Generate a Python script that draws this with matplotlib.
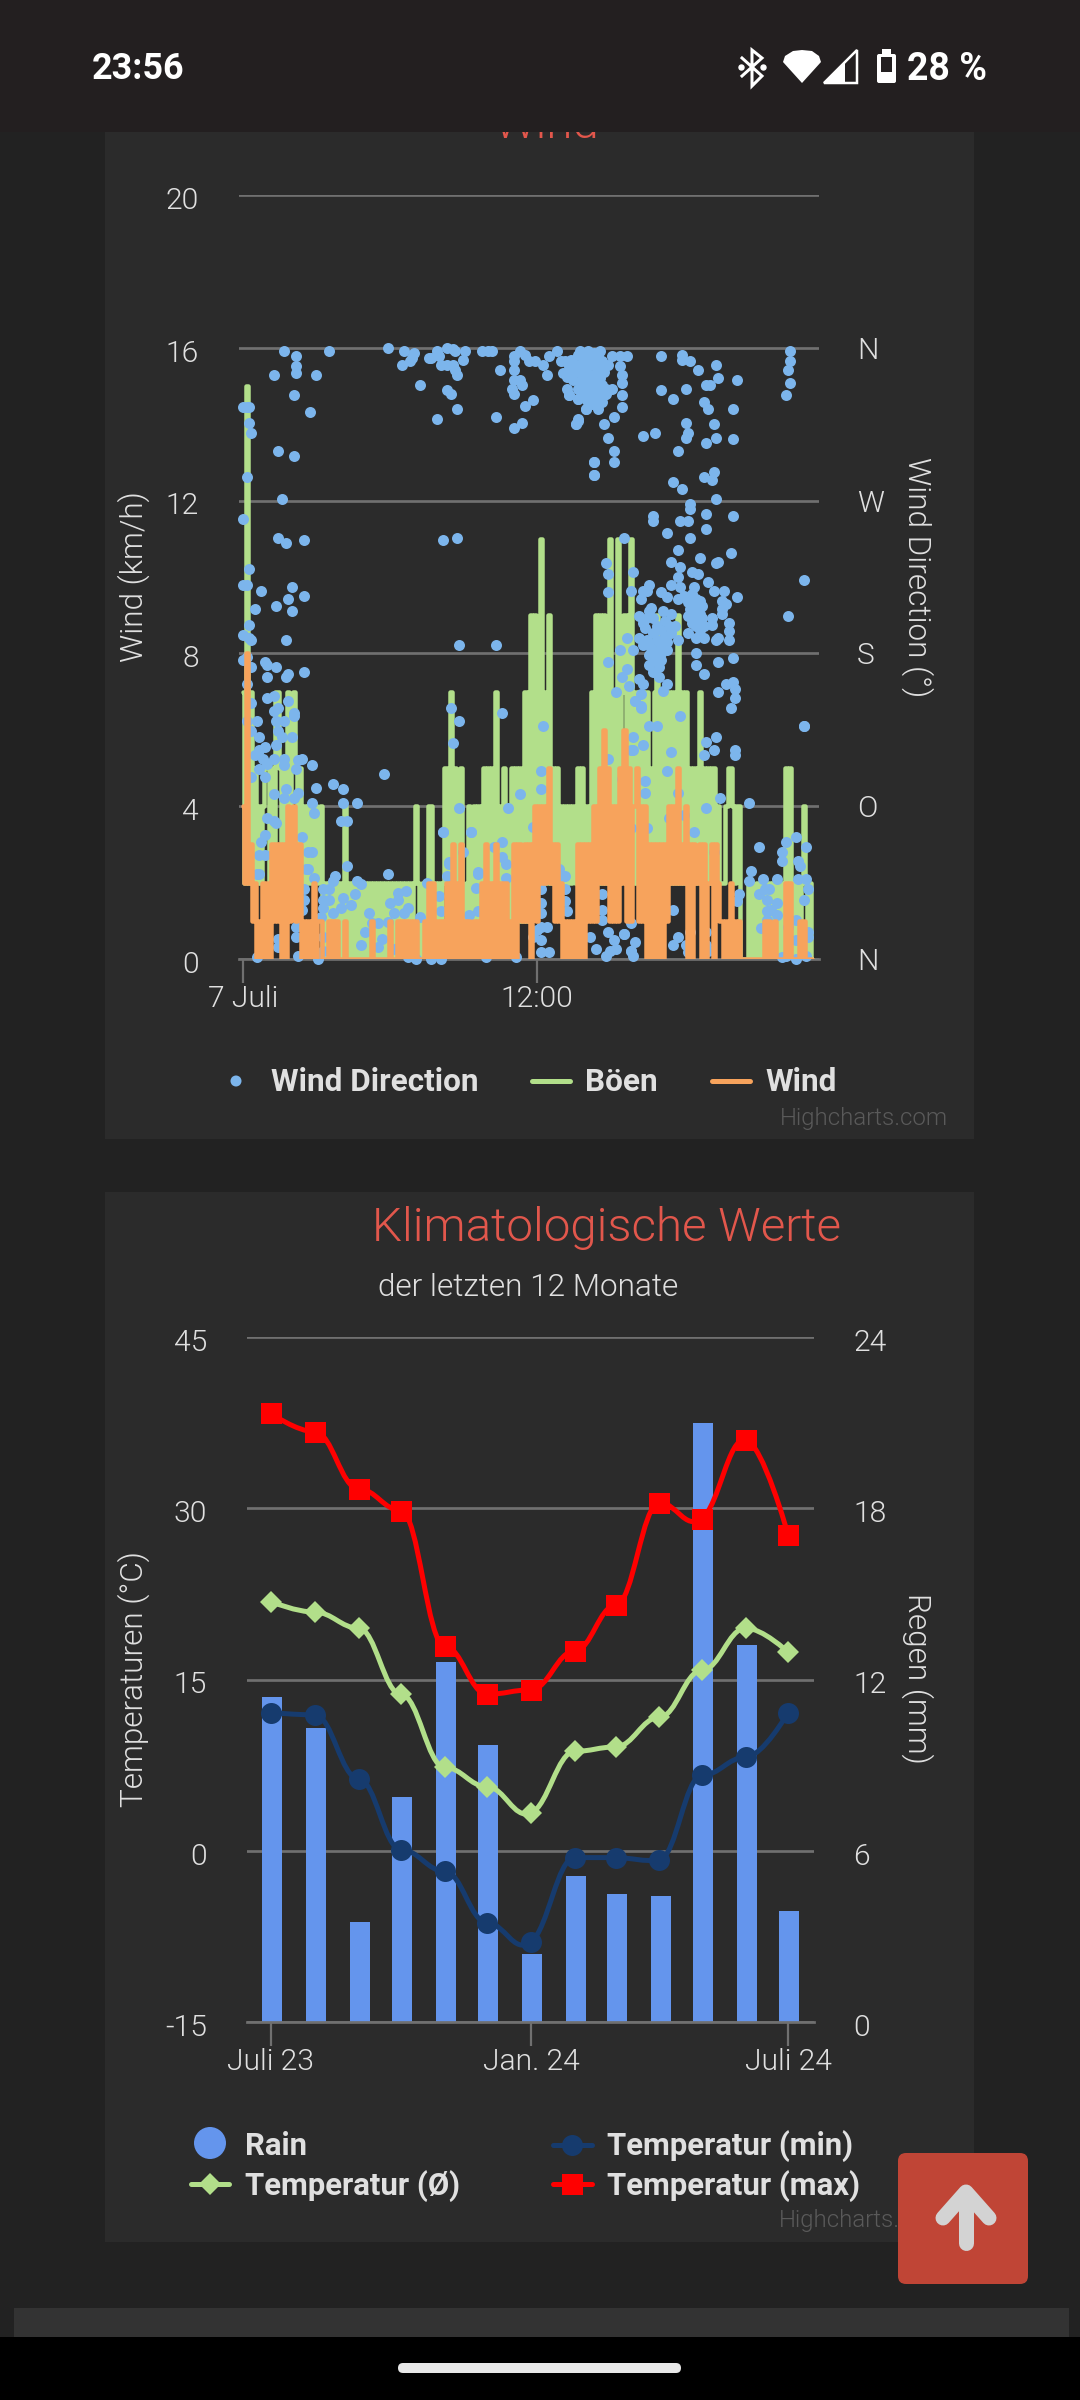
import matplotlib
matplotlib.use("Agg")
import matplotlib.pyplot as plt
import numpy as np
import pandas as pd
from matplotlib.path import Path
from matplotlib.patches import PathPatch, Rectangle, FancyBboxPatch, Polygon, Circle
from matplotlib.transforms import ScaledTranslation

plt.rcParams['font.family'] = ['Roboto', 'DejaVu Sans']
plt.rcParams['axes.unicode_minus'] = False

# ---------- Wind chart data (one sample every 5 minutes from 00:00) ----------
gust_kmh = [
 7,2,15,2,7,2,5,2,4,2,4,5,5,2,5,2,7,7,5,2,
 5,2,7,2,5,7,5,2,5,2,4,2,4,2,4,2,4,2,4,0,
 2,0,2,0,2,0,2,0,2,0,4,0,2,0,2,0,2,0,2,0,
 2,0,2,0,2,0,2,0,2,0,2,0,2,0,2,0,2,0,2,0,
 2,0,2,0,2,4,2,0,2,0,2,4,4,0,2,0,2,0,2,5,
 5,0,7,0,5,0,4,5,0,0,2,4,0,4,0,4,0,4,5,0,
 5,0,5,0,7,0,4,0,5,0,4,1,5,1,5,1,5,1,7,1,
 7,9,2,9,2,7,11,2,7,2,9,2,5,2,5,2,4,2,4,2,
 4,2,4,2,5,2,5,2,4,2,4,7,2,9,2,9,2,9,2,7,
 11,2,7,2,11,2,7,9,2,9,11,2,7,2,7,2,7,2,7,2,
 5,2,7,9,2,7,2,7,2,7,2,7,2,9,2,7,2,7,2,5,
 2,5,2,5,7,2,5,2,5,2,5,5,2,4,2,2,2,4,5,5,
 4,2,4,4,0,0,0,0,2,2,0,0,2,0,2,0,2,0,2,0,
 2,0,2,0,2,0,5,0,5,0,2,0,2,0,2,4,2,0,2,0,
]
wind_kmh = [
 4,2,8,2,3,1,2,0,1,0,2,0,2,0,3,1,3,1,3,0,
 3,0,4,1,3,4,1,3,3,0,1,0,1,0,1,2,0,1,1,0,
 0,0,1,0,1,0,1,0,0,0,1,0,0,0,0,0,0,0,0,0,
 0,0,0,1,0,0,0,0,0,0,0,0,1,0,0,0,1,0,1,0,
 1,0,1,0,1,1,0,0,0,1,0,2,0,2,0,1,0,1,0,1,
 2,0,2,3,0,2,0,3,0,1,0,1,0,1,0,1,0,2,0,3,
 0,2,0,2,3,0,2,0,2,2,0,1,0,3,0,3,3,1,3,1,
 3,0,3,4,1,4,2,4,2,4,5,2,3,1,3,1,2,0,1,0,
 1,0,1,0,3,0,3,0,3,1,3,1,4,1,4,5,2,6,2,5,
 1,4,1,4,1,5,2,6,1,5,1,4,4,5,1,4,1,4,0,3,
 0,3,0,3,0,3,0,3,1,4,2,4,2,5,2,3,2,4,0,3,
 0,3,2,2,3,0,3,0,2,2,3,0,3,2,1,1,0,1,0,2,
 0,1,0,1,0,0,0,0,0,0,0,0,0,0,0,0,1,0,1,0,
 0,1,0,0,0,0,2,0,2,0,0,0,0,1,0,1,0,0,0,0,
]
direction_slot = [
 20,26,26,26,15,36,42,25,33,17, 25,19,17,21,30,0,3,2,3,4,
 2,0,71,79,84,83,82,78,91,92, 95,96,97,100,103,104,109,108,100,103,
 104,105,87,100,102,105,95,98,105,117, 120,122,126,124,133,133,133,136,138,140,
 143,147,150,154,149,156,161,133,136,137, 132,133,138,142,137,133,164,163,168,159,
 160,164,172,172,165,169,175,167,172,165, 168,173,165,168,173,175,167,171,168,173,
 165,174,170,173,174,178,181,160,164,168, 164,163,177,182,179,182,182,172,172,179,
 185,188,181,185,186,186,186,186,205,215, 215,219,223,232,233,242,227,229,205,217,
 211,226,228,240,217,231,218,217,196,202, 227,232,240,213,226,231,230,211,215,232,
 219,219,201,201,227,240,214,218,208,227, 219,187,213,239,210,214,224,232,233,220,
 223,213,228,210,214,221,231,236,242,178, 179,191,179,190,199,198,195,196,205,208,
 213,218,221,224,235,237,235,222,224,235, 230,238,230,223,238,218,222,226,232,238,
 233,221,194,200,201,196,197,206,210,209, 212,210,213,208,204,188,194,198,196,200,
 203,208,185,191,199,205,222,179,233,240, 199,204,222,226,201,188,204,186,194,196,
 189,208,206,240,237,241,233,183,195,192, 241,195,239,268,268,267,268,266,275,267,
 275,195,192,214,199,203,227,232,231,226, 241,241,275,191,196,191,210,208,197,197,
 213,234,227,248,221,271,266,253,276,264, 264,272,273,231,249,248,255,262,272,276,
 277,275,253,256,258,257,262,259,257,262, 257,271,254,259,277,277,267,271,266,271,
 276,264,243,242,213,211,192,190,191,204, 217,218,219,227,227,228,187,190,211,216,
 209,198,190,102,106,103,127,147,146,146, 136,130,106,98,112,142,179,190,186,127,
 123,108,101,129,127,115,114,129,100,96, 97,111,115,158,155,158,158,159,146,146,
 146,144,146,149,142,146,146,150,159,170, 179,182,187,176,176,176,180,173,178,183,
 190,97,119,128,129,134,3,0,2,9, 24,22,30,6,16,24,3,0,3,4,
 21,106,124,2,0,11,12,16,4,12, 21,22,30,2,12,15,4,22,17,15,
 25,25,2,7,16,20,4,17,8,19, 24,16,11,8,6,10,15,20,29,27,
 12,20,34,26,8,11,4,69,36,44, 49,21,27,15,20,25,34,49,56,35,
 12,15,16,48,51,11,9,29,98,112, 32,34,8,11,51,32,101,71,115,7,
 157,39,42,45,44,39,42,39,49,53, 55,48,44,56,58,62,60,58,72,76,
 76,80,81,74,79,87,90,66,71,68, 66,63,17,17,26,26,27,37,7,39,
 39,38,30,30,29,31,35,85,92,81, 74,8,
 164,166,168,170,172,174,176,164,166,170, 174,176,163,166,168,170,172,175,177,162,
 165,167,169,171,173,176,178,164,166,169, 172,174,177,166,168,170,172,175,169,171,
 173,176,171,174,158,160,162,157,159,161,
 216,218,220,222,219,221,223,225,221,223, 225,222,224,226,220,218,
 197,199,203,205,207,203,201,199,205,207, 201,203,205,
]
direction_deg = [
 358,355,349,345,344,344,358,332,322,299, 296,271,248,245,247,325,325,325,316,310,
 284,259,360,358,357,354,352,350,354,354, 358,355,350,360,359,358,358,353,350,350,
 347,344,338,335,333,324,318,247,248,358, 358,358,347,319,355,352,347,358,356,352,
 352,350,355,358,344,352,353,341,341,338, 336,333,326,329,316,313,318,315,324,336,
 332,330,293,285,358,358,358,353,353,349, 349,349,345,345,345,345,341,341,337,337,
 335,333,331,328,324,333,336,332,330,324, 317,315,315,319,307,299,293,293,285,350,
 355,355,355,349,344,339,332,325,355,356, 353,352,347,350,342,341,338,338,335,336,
 330,328,324,324,316,315,310,307,308,310, 304,307,306,299,284,287,282,281,277,271,
 268,265,261,258,262,261,258,258,251,253, 248,248,241,239,234,231,236,233,234,228,
 227,225,222,220,219,219,217,217,213,233, 227,228,216,217,220,217,212,217,216,213,
 212,213,212,211,211,209,206,207,203,203, 201,198,197,197,193,192,189,189,188,188,
 189,201,202,207,201,198,195,205,203,196, 196,192,188,187,187,189,189,188,185,183,
 181,182,182,182,179,180,180,175,175,177, 173,172,173,168,169,171,166,166,165,162,
 161,162,158,163,162,159,157,157,156,152, 154,149,148,358,352,347,339,332,223,202,
 137,148,152,143,137,137,128,131,123,120, 123,120,137,131,126,123,122,111,105,98,
 98,95,89,92,75,72,69,66,66,63, 58,58,55,63,52,46,47,47,47,47,
 41,35,38,41,41,35,33,29,28,26, 23,23,18,19,16,13,19,11,2,0,
 2,1,38,34,13,8,10,5,2,6, 8,4,16,16,8,5,15,21,29,85,
 83,77,77,148,140,127,145,137,111,100, 97,89,89,75,75,78,118,123,106,69,
 66,63,56,56,60,51,42,48,49,37, 28,26,28,49,53,41,34,28,41,33,
 27,17,19,19,13,11,4,4,17,13, 16,11,15,38,29,23,5,6,2,6,
 5,0,1,15,7,1,230,220,220,217, 219,212,214,206,208,205,197,191,189,188,
 188,185,185,178,176,175,173,172,172,166, 166,168,169,162,154,155,151,152,148,146,
 145,143,140,140,140,140,134,134,131,131, 131,126,125,123,120,118,118,118,118,117,
 115,114,114,112,112,107,107,109,101,103, 100,100,98,97,95,95,92,92,92,86,
 83,81,80,81,81,73,69,72,75,75, 63,63,61,61,55,53,57,50,50,50,
 49,41,41,49,46,35,35,30,36,32, 38,30,27,46,44,27,16,8,33,35,
 39,40,30,27,27,25,45,21,22,12, 7,21,12,7,19,13,2,0,1,13,
 5,25,35,41,29,53,48,0,0,1, 6,50,
 356,357,354,356,357,355,352,350,351,350, 351,348,346,347,346,344,343,342,346,341,
 340,339,340,338,340,338,336,336,334,335, 334,336,332,331,330,332,331,328,328,327,
 329,328,335,330,352,349,351,345,343,346,
 214,210,215,212,206,208,205,208,203,200, 201,196,194,196,198,202,
 200,205,196,194,199,188,192,186,183,190, 178,175,176,
]

# ---------- Climate chart data ----------
month_starts = ['2023-07-01','2023-08-01','2023-09-01','2023-10-01','2023-11-01','2023-12-01',
                '2024-01-01','2024-02-01','2024-03-01','2024-04-01','2024-05-01','2024-06-01','2024-07-01']
rain_mm  = [11.4, 10.3, 3.5, 7.9, 12.6, 9.7, 2.4, 5.1, 4.5, 4.4, 21.0, 13.2, 3.9]
temp_min = [12.1, 11.9, 6.3, 0.1, -1.8, -6.3, -8.0, -0.6, -0.6, -0.8, 6.6, 8.2, 12.1]
temp_avg = [21.8, 20.9, 19.5, 13.7, 7.3, 5.6, 3.3, 8.7, 9.1, 11.7, 15.8, 19.5, 17.4]
temp_max = [38.3, 36.7, 31.7, 29.8, 17.9, 13.7, 14.1, 17.5, 21.5, 30.5, 29.1, 36.0, 27.7]

wind_yticks = [0, 4, 8, 12, 16, 20]
dir_ticks = [0, 90, 180, 270, 360]
dir_labels = ['N', 'O', 'S', 'W', 'N']
temp_ticks = [-15, 0, 15, 30, 45]
rain_ticks = [0, 6, 12, 18, 24]
climate_xticks = ['2023-07-01', '2024-01-01', '2024-07-01']
climate_xlabels = ['Juli 23', 'Jan. 24', 'Juli 24']

# ---------- colours ----------
PAGE='#222222'; PANEL='#2b2b2b'; GRID='#707070'; TXT='#e0e0e0'; RED='#e2574c'
C_DIR='#7cb5ec'; C_GUST='#b2df8a'; C_WIND='#f7a35c'
C_RAIN='#6495ed'; C_MIN='#163b6e'; C_MAX='#ff0000'

W, H = 1080, 2400
fig = plt.figure(figsize=(W/100, H/100), dpi=100, facecolor=PAGE)
px = lambda v: v*72/100

def axes_px(x0, x1, ytop, ybot, z):
    a = fig.add_axes([x0/W, 1-ybot/H, (x1-x0)/W, (ybot-ytop)/H], zorder=z)
    a.patch.set_visible(False)
    return a

bg = fig.add_axes([0,0,1,1], zorder=0); bg.set_xlim(0,W); bg.set_ylim(H,0); bg.axis('off')
bg.add_patch(Rectangle((105,130),869,1009,fc=PANEL,ec='none'))
bg.add_patch(Rectangle((105,1192),869,1050,fc=PANEL,ec='none'))

def style(a):
    for s in a.spines.values(): s.set_visible(False)
    a.tick_params(axis='y', length=0, colors=TXT, labelsize=px(30))
    a.tick_params(axis='x', length=px(24), width=px(2.2), color=GRID, colors=TXT, labelsize=px(30))
    a.spines['bottom'].set_visible(True); a.spines['bottom'].set_color(GRID); a.spines['bottom'].set_linewidth(px(2.7))
    for l in a.get_xticklabels()+a.get_yticklabels(): l.set_fontweight(300)

# ---------- Wind chart ----------
x0_w, x1_w = 239, 819
ax_wind = axes_px(x0_w, x1_w, 195, 959, 3)
ax_dir = ax_wind.twinx(); ax_dir.set_zorder(2); ax_dir.patch.set_visible(False)
hours = np.arange(len(gust_kmh))*5/60
ax_wind.set_xlim(-4/24.48, (x1_w-243)/24.48)
ax_wind.set_ylim(0, 20); ax_dir.set_ylim(0, 450)
ax_wind.set_yticks(wind_yticks); ax_dir.set_yticks(dir_ticks); ax_dir.set_yticklabels(dir_labels)
ax_wind.set_xticks([0, 12]); ax_wind.set_xticklabels(['7 Juli', '12:00'])
style(ax_wind); style(ax_dir)
ax_dir.spines['bottom'].set_visible(False)
ax_wind.tick_params(axis='y', pad=px(40)); ax_dir.tick_params(axis='y', pad=px(38))
ax_wind.tick_params(axis='x', pad=px(2))
ax_wind.grid(axis='y', color=GRID, lw=px(2.7), zorder=0); ax_wind.set_axisbelow(True)
ax_wind.plot(hours, gust_kmh, color=C_GUST, lw=px(4.5), drawstyle='steps-mid',
             solid_capstyle='round', solid_joinstyle='round', zorder=2)
ax_wind.scatter(np.array(direction_slot)*5/60, direction_deg, s=px(11)**2, color=C_DIR, lw=0,
                transform=ax_dir.transData, zorder=3, clip_on=False)
ax_wind.plot(hours, wind_kmh, color=C_WIND, lw=px(4.5), drawstyle='steps-mid',
             solid_capstyle='round', solid_joinstyle='round', zorder=4)

# ---------- Climate chart ----------
def spline(x, y):
    x = np.asarray(x, float); y = np.asarray(y, float); n = len(x)
    verts = [(x[0], y[0])]; codes = [Path.MOVETO]
    L = np.zeros((n,2)); R = np.zeros((n,2))
    L[0] = x[0], y[0]; R[0] = x[0], y[0]; L[-1] = x[-1], y[-1]; R[-1] = x[-1], y[-1]
    for i in range(1, n-1):
        lx = (1.5*x[i]+x[i-1])/2.5; ly = (1.5*y[i]+y[i-1])/2.5
        rx = (1.5*x[i]+x[i+1])/2.5; ry = (1.5*y[i]+y[i+1])/2.5
        c = (ry-ly)*(rx-x[i])/(rx-lx)+y[i]-ry
        ly += c; ry += c
        for o in (y[i-1], y[i+1]):
            if ry > o and ry > y[i]:
                ry = max(o, y[i]); ly = 2*y[i]-ry
            elif ry < o and ry < y[i]:
                ry = min(o, y[i]); ly = 2*y[i]-ry
        L[i] = lx, ly; R[i] = rx, ry
    for i in range(n-1):
        verts += [tuple(R[i]), tuple(L[i+1]), (x[i+1], y[i+1])]
        codes += [Path.CURVE4]*3
    return Path(verts, codes)

x0_c, x1_c = 247, 814
ax_rain = axes_px(x0_c, x1_c, 1337, 2022, 2)
ax_temp = ax_rain.twinx(); ax_temp.set_zorder(3); ax_temp.patch.set_visible(False)
days = (pd.to_datetime(month_starts) - pd.Timestamp(month_starts[0])).days.to_numpy(float)
tick_days = (pd.to_datetime(climate_xticks) - pd.Timestamp(month_starts[0])).days.to_numpy(float)
pxd = 1.4126
ax_rain.set_xlim(-24/pxd, 366+26/pxd)
ax_rain.set_ylim(0, 24); ax_temp.set_ylim(-15, 45)
ax_rain.set_yticks(rain_ticks); ax_temp.set_yticks(temp_ticks)
ax_rain.set_xticks(tick_days); ax_rain.set_xticklabels(climate_xlabels)
style(ax_rain); style(ax_temp)
ax_temp.spines['bottom'].set_visible(False)
ax_rain.yaxis.tick_right(); ax_temp.yaxis.tick_left()
ax_rain.tick_params(axis='y', pad=px(39)); ax_temp.tick_params(axis='y', pad=px(40))
ax_rain.tick_params(axis='x', pad=px(2.5))
ax_rain.grid(axis='y', color=GRID, lw=px(2.7), zorder=0); ax_rain.set_axisbelow(True)
ax_rain.bar(days+0.8, rain_mm, width=20/pxd, color=C_RAIN, zorder=2)
for vals, col, mk, ms in [(temp_min, C_MIN, 'o', 21), (temp_avg, C_GUST, 'D', 15), (temp_max, C_MAX, 's', 21)]:
    ax_temp.add_patch(PathPatch(spline(days, vals), fc='none', ec=col, lw=px(5), capstyle='round', zorder=3))
    ax_temp.plot(days, vals, ls='none', marker=mk, ms=px(ms), mfc=col, mec=col, mew=0, zorder=4)

# nudge tick labels like the reference
for a, dy in ((ax_wind, -2), (ax_dir, 0), (ax_rain, -2), (ax_temp, -2)):
    for l in a.get_yticklabels():
        l.set_transform(l.get_transform()+ScaledTranslation(0, dy/72, fig.dpi_scale_trans))
        l.set_fontweight(300)

# ---------- overlay: titles, legends, chrome ----------
ov = fig.add_axes([0,0,1,1], zorder=10); ov.set_xlim(0,W); ov.set_ylim(H,0); ov.axis('off'); ov.patch.set_visible(False)
def T(x, y, s, size, color=TXT, weight=300, ha='left', va='center', rot=0, z=5):
    return ov.text(x, y, s, fontsize=px(size), color=color, fontweight=weight, ha=ha, va=va, rotation=rot, zorder=z)

T(546, 125, 'Wind', 47.5, RED, ha='center', z=1)
T(134, 577, 'Wind (km/h)', 31.5, ha='center', rot=90)
T(917, 577, 'Wind Direction (°)', 31.5, ha='center', rot=270)
# legend 1
ov.add_patch(Circle((236,1081), 5.5, fc=C_DIR, ec='none'))
T(271, 1082, 'Wind Direction', 31.5, weight='bold')
ov.plot([532,570],[1081,1081], color=C_GUST, lw=px(5), solid_capstyle='round')
T(585, 1082, 'Böen', 31.5, weight='bold')
ov.plot([712,750],[1081,1081], color=C_WIND, lw=px(5), solid_capstyle='round')
T(765, 1082, 'Wind', 31.5, weight='bold')
T(948, 1118, 'Highcharts.com', 24, '#5a5a5a', ha='right')

T(607, 1228, 'Klimatologische Werte', 47.5, RED, ha='center')
T(528, 1288, 'der letzten 12 Monate', 31.5, ha='center')
T(134, 1679, 'Temperaturen (°C)', 31.5, ha='center', rot=90)
T(917, 1678, 'Regen (mm)', 31.5, ha='center', rot=270)
# legend 2
ov.add_patch(Circle((210,2143), 16, fc=C_RAIN, ec='none'))
T(245, 2146, 'Rain', 31.2, weight='bold')
ov.plot([553,592],[2145,2145], color=C_MIN, lw=px(5), solid_capstyle='round')
ov.plot([572],[2145], marker='o', ms=px(21), color=C_MIN, mew=0)
T(607, 2146, 'Temperatur (min)', 31.2, weight='bold')
ov.plot([191,229],[2184,2184], color=C_GUST, lw=px(5), solid_capstyle='round')
ov.plot([210],[2184], marker='D', ms=px(15), color=C_GUST, mew=0)
T(245, 2186, 'Temperatur (Ø)', 31.2, weight='bold')
ov.plot([553,592],[2184,2184], color=C_MAX, lw=px(5), solid_capstyle='round')
ov.plot([572],[2184], marker='s', ms=px(21), color=C_MAX, mew=0)
T(607, 2186, 'Temperatur (max)', 31.2, weight='bold')
T(947, 2220, 'Highcharts.com', 24, '#5a5a5a', ha='right')

# status bar
ov.add_patch(Rectangle((0,0),W,132,fc='#231f20',ec='none',zorder=3))
T(92, 69, '23:56', 36, '#ffffff', weight=600, z=5)
T(987, 69, '28 %', 37.5, '#ffffff', weight=600, ha='right', z=5)
ov.plot([742,762,752,752,762,742],[58,76,86,50,58,76], color='white', lw=px(3), zorder=5, solid_joinstyle='miter')
ov.plot([741,763],[67,67], ls='none', marker='o', ms=px(5), color='white', zorder=5)
ov.add_patch(Polygon([(802,83),(783,62),(785,56),(793,51),(802,50),(812,51),(819,56),(821,62)],fc='white',ec='none',zorder=5))
ov.add_patch(Polygon([(857,50),(857,83),(824,83)],fc='none',ec='white',lw=px(2.5),zorder=5))
ov.add_patch(Polygon([(824,83),(845,62),(845,83)],fc='white',ec='none',zorder=5))
ov.add_patch(FancyBboxPatch((877,54),19,29,boxstyle='round,pad=0,rounding_size=2',fc='white',ec='none',zorder=5))
ov.add_patch(Rectangle((882,49),9,6,fc='white',ec='none',zorder=5))
ov.add_patch(Rectangle((881,57),11,15,fc='#231f20',ec='none',zorder=6))

# bottom chrome
ov.add_patch(Rectangle((14,2308),1055,29,fc='#333333',ec='none',zorder=3))
ov.add_patch(Rectangle((0,2337),W,63,fc='#000000',ec='none',zorder=3))
ov.add_patch(FancyBboxPatch((398,2363),283,10,boxstyle='round,pad=0,rounding_size=5',fc='#e8e8e8',ec='none',zorder=4))
# scroll-to-top button
ov.add_patch(FancyBboxPatch((898,2153),130,131,boxstyle='round,pad=0,rounding_size=8',fc='#c04536',ec='none',zorder=6))
ov.plot([966,966],[2197,2243], color='#d3d3d3', lw=px(15), solid_capstyle='round', zorder=7)
ov.plot([943,966,989],[2218,2192,2218], color='#d3d3d3', lw=px(15), solid_capstyle='round', solid_joinstyle='round', zorder=7)

fig.savefig('out.png', dpi=100, facecolor=PAGE)
